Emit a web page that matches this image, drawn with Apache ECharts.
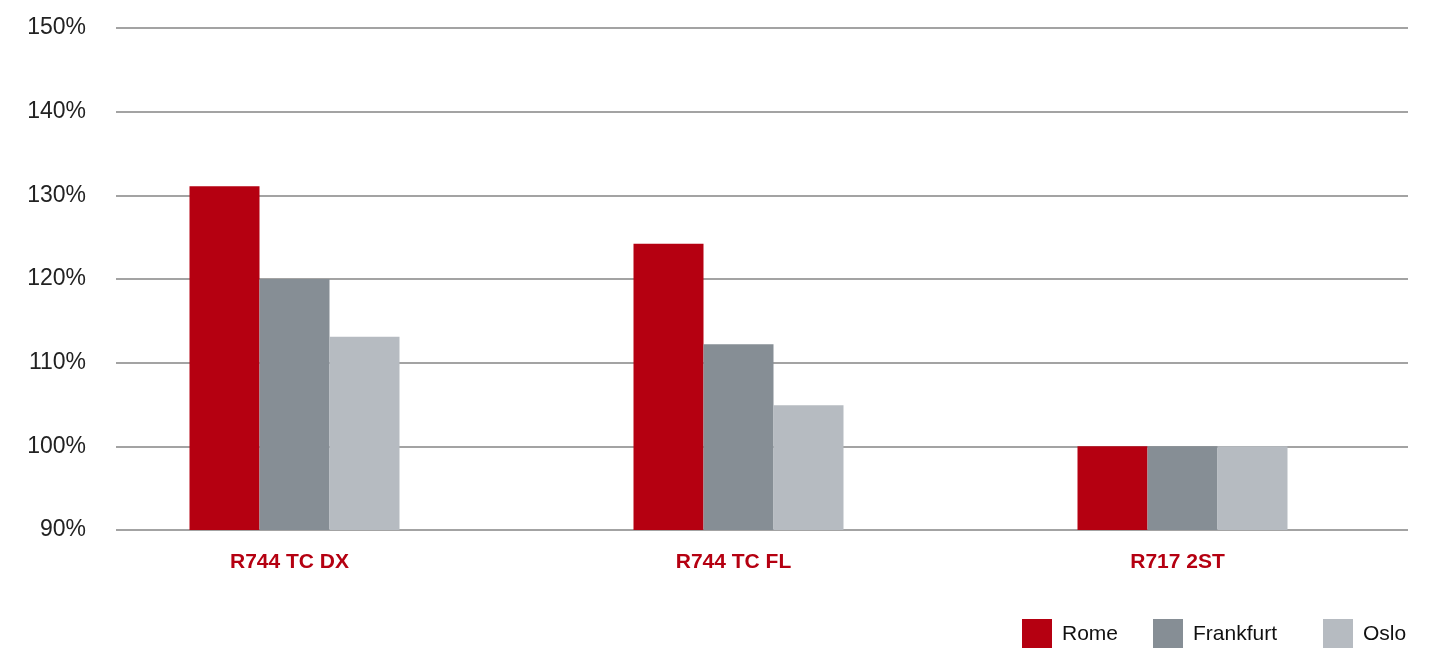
<!DOCTYPE html>
<html>
<head>
<meta charset="utf-8">
<script src="https://cdn.jsdelivr.net/npm/echarts@6/dist/echarts.min.js"></script>
<style>html,body{margin:0;padding:0;background:#fff}#c{width:1433px;height:648px}</style>
</head>
<body>
<div id="c"></div>
<script>
const categories = ['R744 TC DX', 'R744 TC FL', 'R717 2ST'];
const rome = [131.1, 124.2, 100];
const frankfurt = [120, 112.2, 100];
const oslo = [113.1, 104.9, 100];
const seriesNames = ['Rome', 'Frankfurt', 'Oslo'];
const yMin = 90, yMax = 150, yStep = 10;

const colors = ['#b50011', '#868e95', '#b6bbc1'];
const font = '"Liberation Sans", Arial, sans-serif';

const chart = echarts.init(document.getElementById('c'));
const legendLefts = [1022, 1153, 1323];
chart.setOption({
  animation: false,
  color: colors,
  grid: [
    { left: 116, width: 1292, top: 28, height: 502 },
    { left: 72.5, width: 1332, top: 28, height: 502 }
  ],
  xAxis: [
    { type: 'category', gridIndex: 0, data: categories, show: false },
    {
      type: 'category', gridIndex: 1, data: categories,
      axisLine: { show: false }, axisTick: { show: false },
      axisLabel: {
        color: '#b50011', fontFamily: font, fontWeight: 'bold', fontSize: 21,
        margin: 22, padding: [0, 10, 0, 0]
      }
    }
  ],
  yAxis: [
    {
      type: 'value', gridIndex: 0, min: yMin, max: yMax, interval: yStep,
      axisLine: { show: false }, axisTick: { show: false },
      axisLabel: { formatter: '{value}%', color: '#222', fontFamily: font, fontSize: 23, margin: 30 },
      splitLine: { lineStyle: { color: '#858585', width: 1.5 } }
    },
    { type: 'value', gridIndex: 1, min: yMin, max: yMax, interval: yStep, show: false, splitLine: { show: false } }
  ],
  legend: seriesNames.map((n, i) => ({
    data: [n], left: legendLefts[i], top: 619, itemWidth: 30, itemHeight: 30,
    padding: 0, icon: 'rect',
    textStyle: { fontFamily: font, fontSize: 21, color: '#111', padding: [0, 0, 0, 5] }
  })),
  series: [rome, frankfurt, oslo].map((d, i) => ({
    name: seriesNames[i], type: 'bar', xAxisIndex: 1, yAxisIndex: 1,
    data: d, barWidth: 70, barGap: '0%', itemStyle: { color: colors[i] }
  }))
});
</script>
</body>
</html>
